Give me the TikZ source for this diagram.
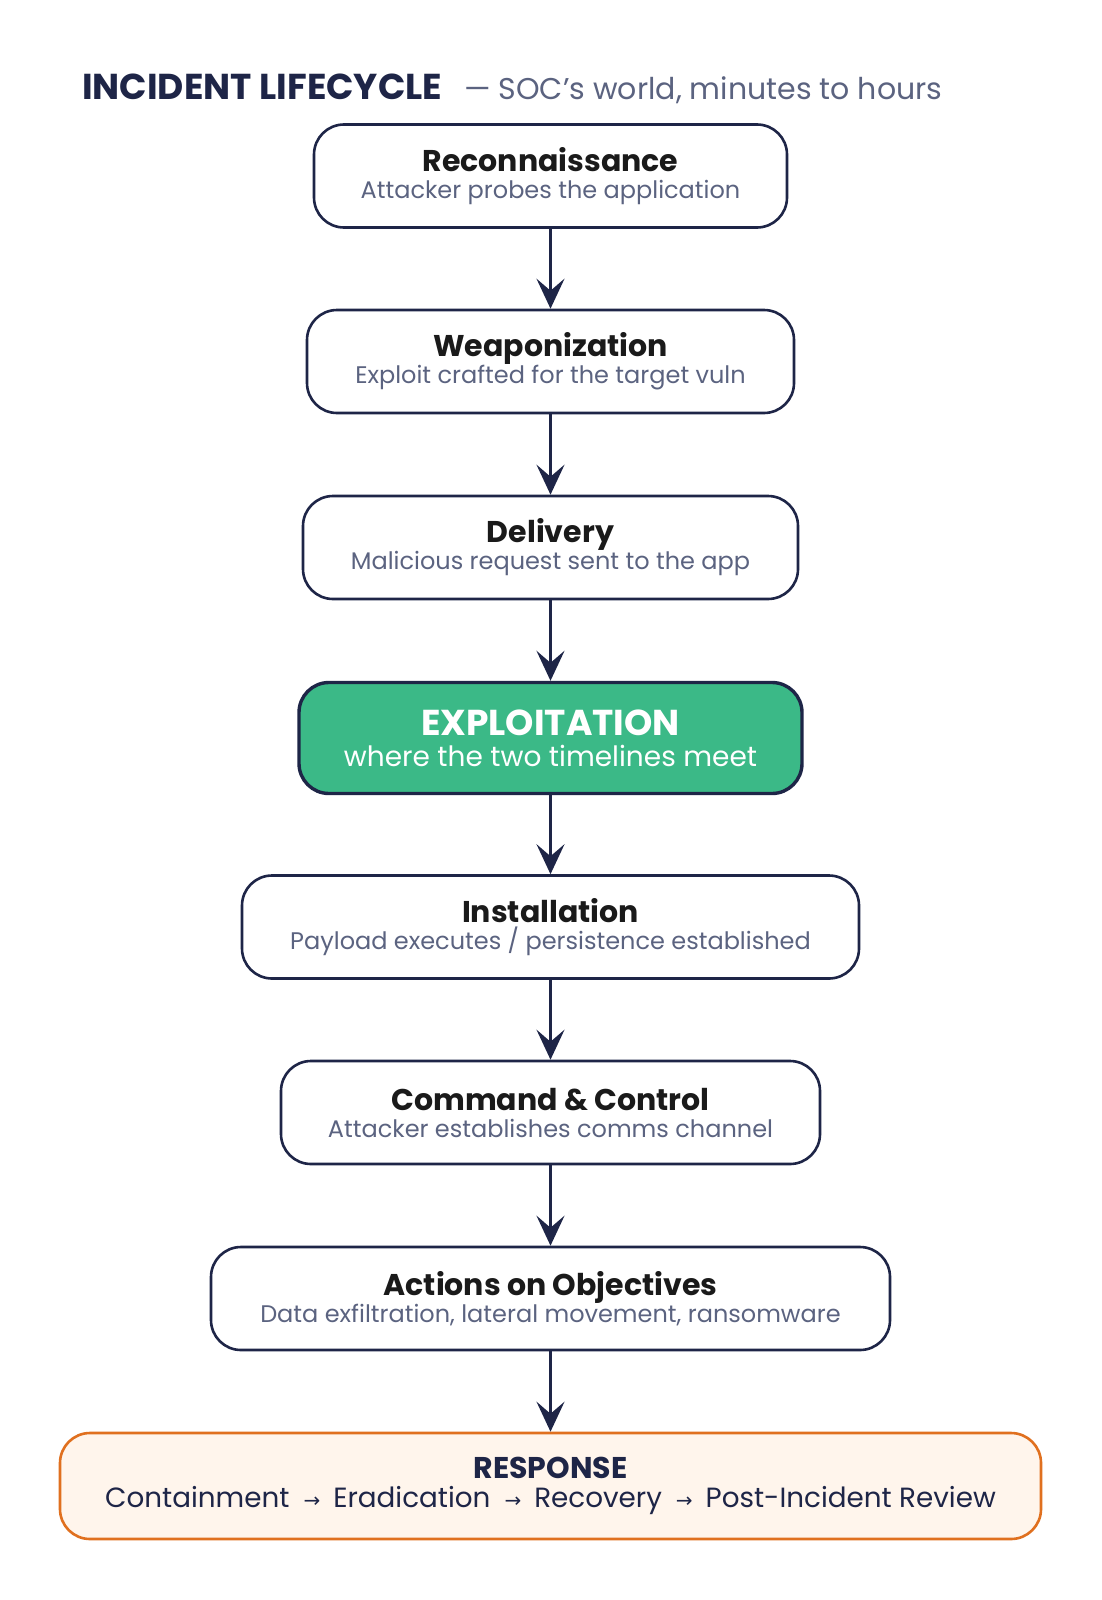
\documentclass[tikz,border=0pt]{standalone}
\usepackage{fontspec}
\setmainfont{Poppins}
\newfontfamily\arrowfont{DejaVu Sans}
\usetikzlibrary{arrows.meta}
\definecolor{navy}{HTML}{1E2547}
\definecolor{ink}{HTML}{1A1A1A}
\definecolor{subgray}{HTML}{5B6380}
\definecolor{egreen}{HTML}{3BB987}
\definecolor{orng}{HTML}{E0701F}
\definecolor{cream}{HTML}{FFF5EC}
\newcommand\stagetext[2]{{\fontsize{30}{27}\selectfont\bfseries\color{ink}#1}\\{\color{subgray}#2}}
\newcommand\rarr{\hspace{14pt}{\arrowfont\fontsize{20}{20}\selectfont →}\hspace{13pt}}
\begin{document}
\begin{tikzpicture}[x=1pt,y=-1pt,
  stage/.style={draw=navy, line width=2.6pt, rounded corners=30pt, fill=white, align=center,
    inner sep=0pt, minimum height=103pt, font=\fontsize{24}{27}\selectfont},
  flow/.style={draw=navy, line width=2.6pt, -{Stealth[length=30pt,width=28pt,inset=12pt]}},
  heading/.style={anchor=base west, inner sep=0pt}
]
\path[use as bounding box, fill=white] (0,0) rectangle (1101,1600);

\node[heading, font=\fontsize{36}{36}\selectfont\bfseries, text=navy] (title) at (82,100) {INCIDENT LIFECYCLE};
\node[heading, font=\fontsize{30}{30}\selectfont, text=subgray] (subtitle) at (464,100) {— SOC's world, minutes to hours};

\node[stage, minimum width=473pt] (recon) at (550.5,176) {\stagetext{Reconnaissance}{Attacker probes the application}};
\node[stage, minimum width=487pt] (weap) at (550.5,361.5) {\stagetext{Weaponization}{Exploit crafted for the target vuln}};
\node[stage, minimum width=495pt] (deliv) at (550.5,547.5) {\stagetext{Delivery}{Malicious request sent to the app}};
\node[stage, minimum width=503pt, minimum height=111pt, fill=egreen, line width=3.4pt, text=white,
  font=\fontsize{28}{31}\selectfont] (exploit) at (550.5,738)
  {{\fontsize{36}{31}\selectfont\bfseries EXPLOITATION}\\where the two timelines meet};
\node[stage, minimum width=617pt] (install) at (550.5,927) {\stagetext{Installation}{Payload executes / persistence established}};
\node[stage, minimum width=539pt] (cc) at (550.5,1112.5) {\stagetext{Command \& Control}{Attacker establishes comms channel}};
\node[stage, minimum width=679pt] (actions) at (550.5,1298.5) {\stagetext{Actions on Objectives}{Data exfiltration, lateral movement, ransomware}};
\node[stage, minimum width=981pt, minimum height=106pt, draw=orng, fill=cream, text=navy,
  font=\fontsize{27.8}{29}\selectfont] (resp) at (550.5,1486)
  {{\fontsize{30}{29}\selectfont\bfseries RESPONSE}\\Containment\rarr Eradication\rarr Recovery\rarr Post-Incident Review};

\draw[flow] (recon.south) -- (weap.north);
\draw[flow] (weap.south) -- (deliv.north);
\draw[flow] (deliv.south) -- (exploit.north);
\draw[flow] (exploit.south) -- (install.north);
\draw[flow] (install.south) -- (cc.north);
\draw[flow] (cc.south) -- (actions.north);
\draw[flow] (actions.south) -- (resp.north);
\end{tikzpicture}
\end{document}
